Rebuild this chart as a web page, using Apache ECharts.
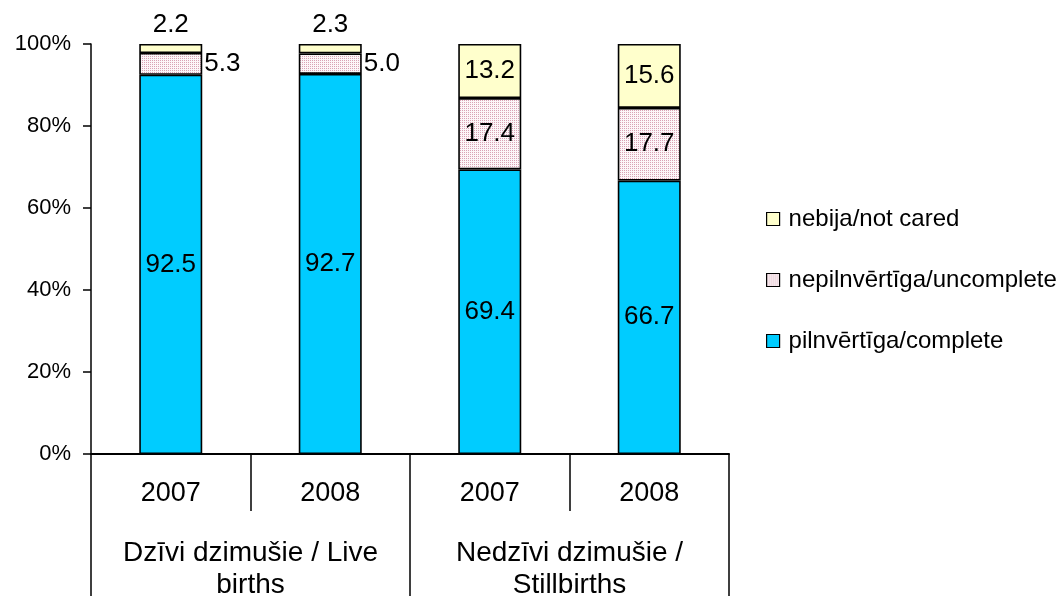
<!DOCTYPE html>
<html><head><meta charset="utf-8">
<script src="https://cdn.jsdelivr.net/npm/echarts@6/dist/echarts.min.js"></script>
<style>html,body{margin:0;padding:0;background:#fff}#c{width:1059px;height:596px}</style>
</head><body><div id="c"></div>
<script>
// ---- data ----
const years = ['2007', '2008', '2007', '2008'];
const groups = ['Dzīvi dzimušie / Live\nbirths', 'Nedzīvi dzimušie /\nStillbirths'];
const seriesNames = ['pilnvērtīga/complete', 'nepilnvērtīga/uncomplete', 'nebija/not cared'];
const complete = [92.5, 92.7, 69.4, 66.7];
const uncomplete = [5.3, 5.0, 17.4, 17.7];
const notCared = [2.2, 2.3, 13.2, 15.6];
const legendOrder = ['nebija/not cared', 'nepilnvērtīga/uncomplete', 'pilnvērtīga/complete'];

// ---- dotted pattern for "uncomplete" ----
const pc = document.createElement('canvas');
pc.width = 2; pc.height = 2;
const pctx = pc.getContext('2d');
pctx.fillStyle = '#FCF6F8'; pctx.fillRect(0, 0, 2, 2);
pctx.fillStyle = '#D9A2B4'; pctx.fillRect(0, 0, 1, 1);
const dotPattern = { image: pc, repeat: 'repeat' };

const FONT = '"Liberation Sans", Arial, sans-serif';
const labelBase = { show: true, color: '#000', fontSize: 26, fontFamily: FONT, formatter: p => Number(p.value).toFixed(1) };

function mk(name, values, color, posFn) {
  return {
    name, type: 'bar', stack: 'all', barWidth: 63,
    itemStyle: { color, borderColor: '#000', borderWidth: 1.6 },
    label: Object.assign({}, labelBase, { position: 'inside' }),
    data: values.map((v, i) => {
      const pos = posFn ? posFn(i) : null;
      return pos ? { value: v, label: { position: pos.p, distance: pos.d } } : { value: v };
    }),
    emphasis: { disabled: true }, animation: false
  };
}

const chart = echarts.init(document.getElementById('c'), null, { renderer: 'canvas' });
chart.setOption({
  animation: false,
  textStyle: { fontFamily: FONT, color: '#000' },
  grid: { left: 91, right: 330, top: 44, bottom: 142, containLabel: false, outerBoundsMode: 'none' },
  legend: {
    orient: 'vertical', left: 761, top: 202, itemGap: 37,
    itemWidth: 13, itemHeight: 13, icon: 'rect',
    data: legendOrder,
    itemStyle: { borderColor: '#000', borderWidth: 1.2 },
    textStyle: { fontSize: 24, color: '#000', fontFamily: FONT, padding: [0, 0, 0, 4] }
  },
  xAxis: [
    {
      type: 'category', data: years, position: 'bottom',
      axisLine: { show: true, lineStyle: { color: '#000', width: 2 } },
      axisTick: { show: true, interval: 0, length: 57, lineStyle: { color: '#000', width: 1.5 } },
      axisLabel: { interval: 0, fontSize: 27, color: '#000', fontFamily: FONT, margin: 26 }
    },
    {
      type: 'category', data: groups, position: 'bottom', gridIndex: 0,
      axisLine: { show: false },
      axisTick: { show: true, interval: 0, length: 142, lineStyle: { color: '#000', width: 1.5 } },
      axisLabel: { interval: 0, fontSize: 28, color: '#000', fontFamily: FONT, margin: 83, lineHeight: 32 }
    }
  ],
  yAxis: {
    type: 'value', min: 0, max: 100, interval: 20,
    axisLine: { show: true, lineStyle: { color: '#000', width: 1.5 } },
    axisTick: { show: true, length: 8, lineStyle: { color: '#000', width: 1.5 } },
    splitLine: { show: false },
    axisLabel: { formatter: '{value}%', fontSize: 22, color: '#000', fontFamily: FONT, margin: 20 }
  },
  series: [
    mk(seriesNames[0], complete, '#00CCFF'),
    mk(seriesNames[1], uncomplete, dotPattern, i => i < 2 ? { p: 'right', d: 2 } : null),
    mk(seriesNames[2], notCared, '#FFFFCC', i => i < 2 ? { p: 'top', d: 6 } : null)
  ]
});
</script>
</body></html>
